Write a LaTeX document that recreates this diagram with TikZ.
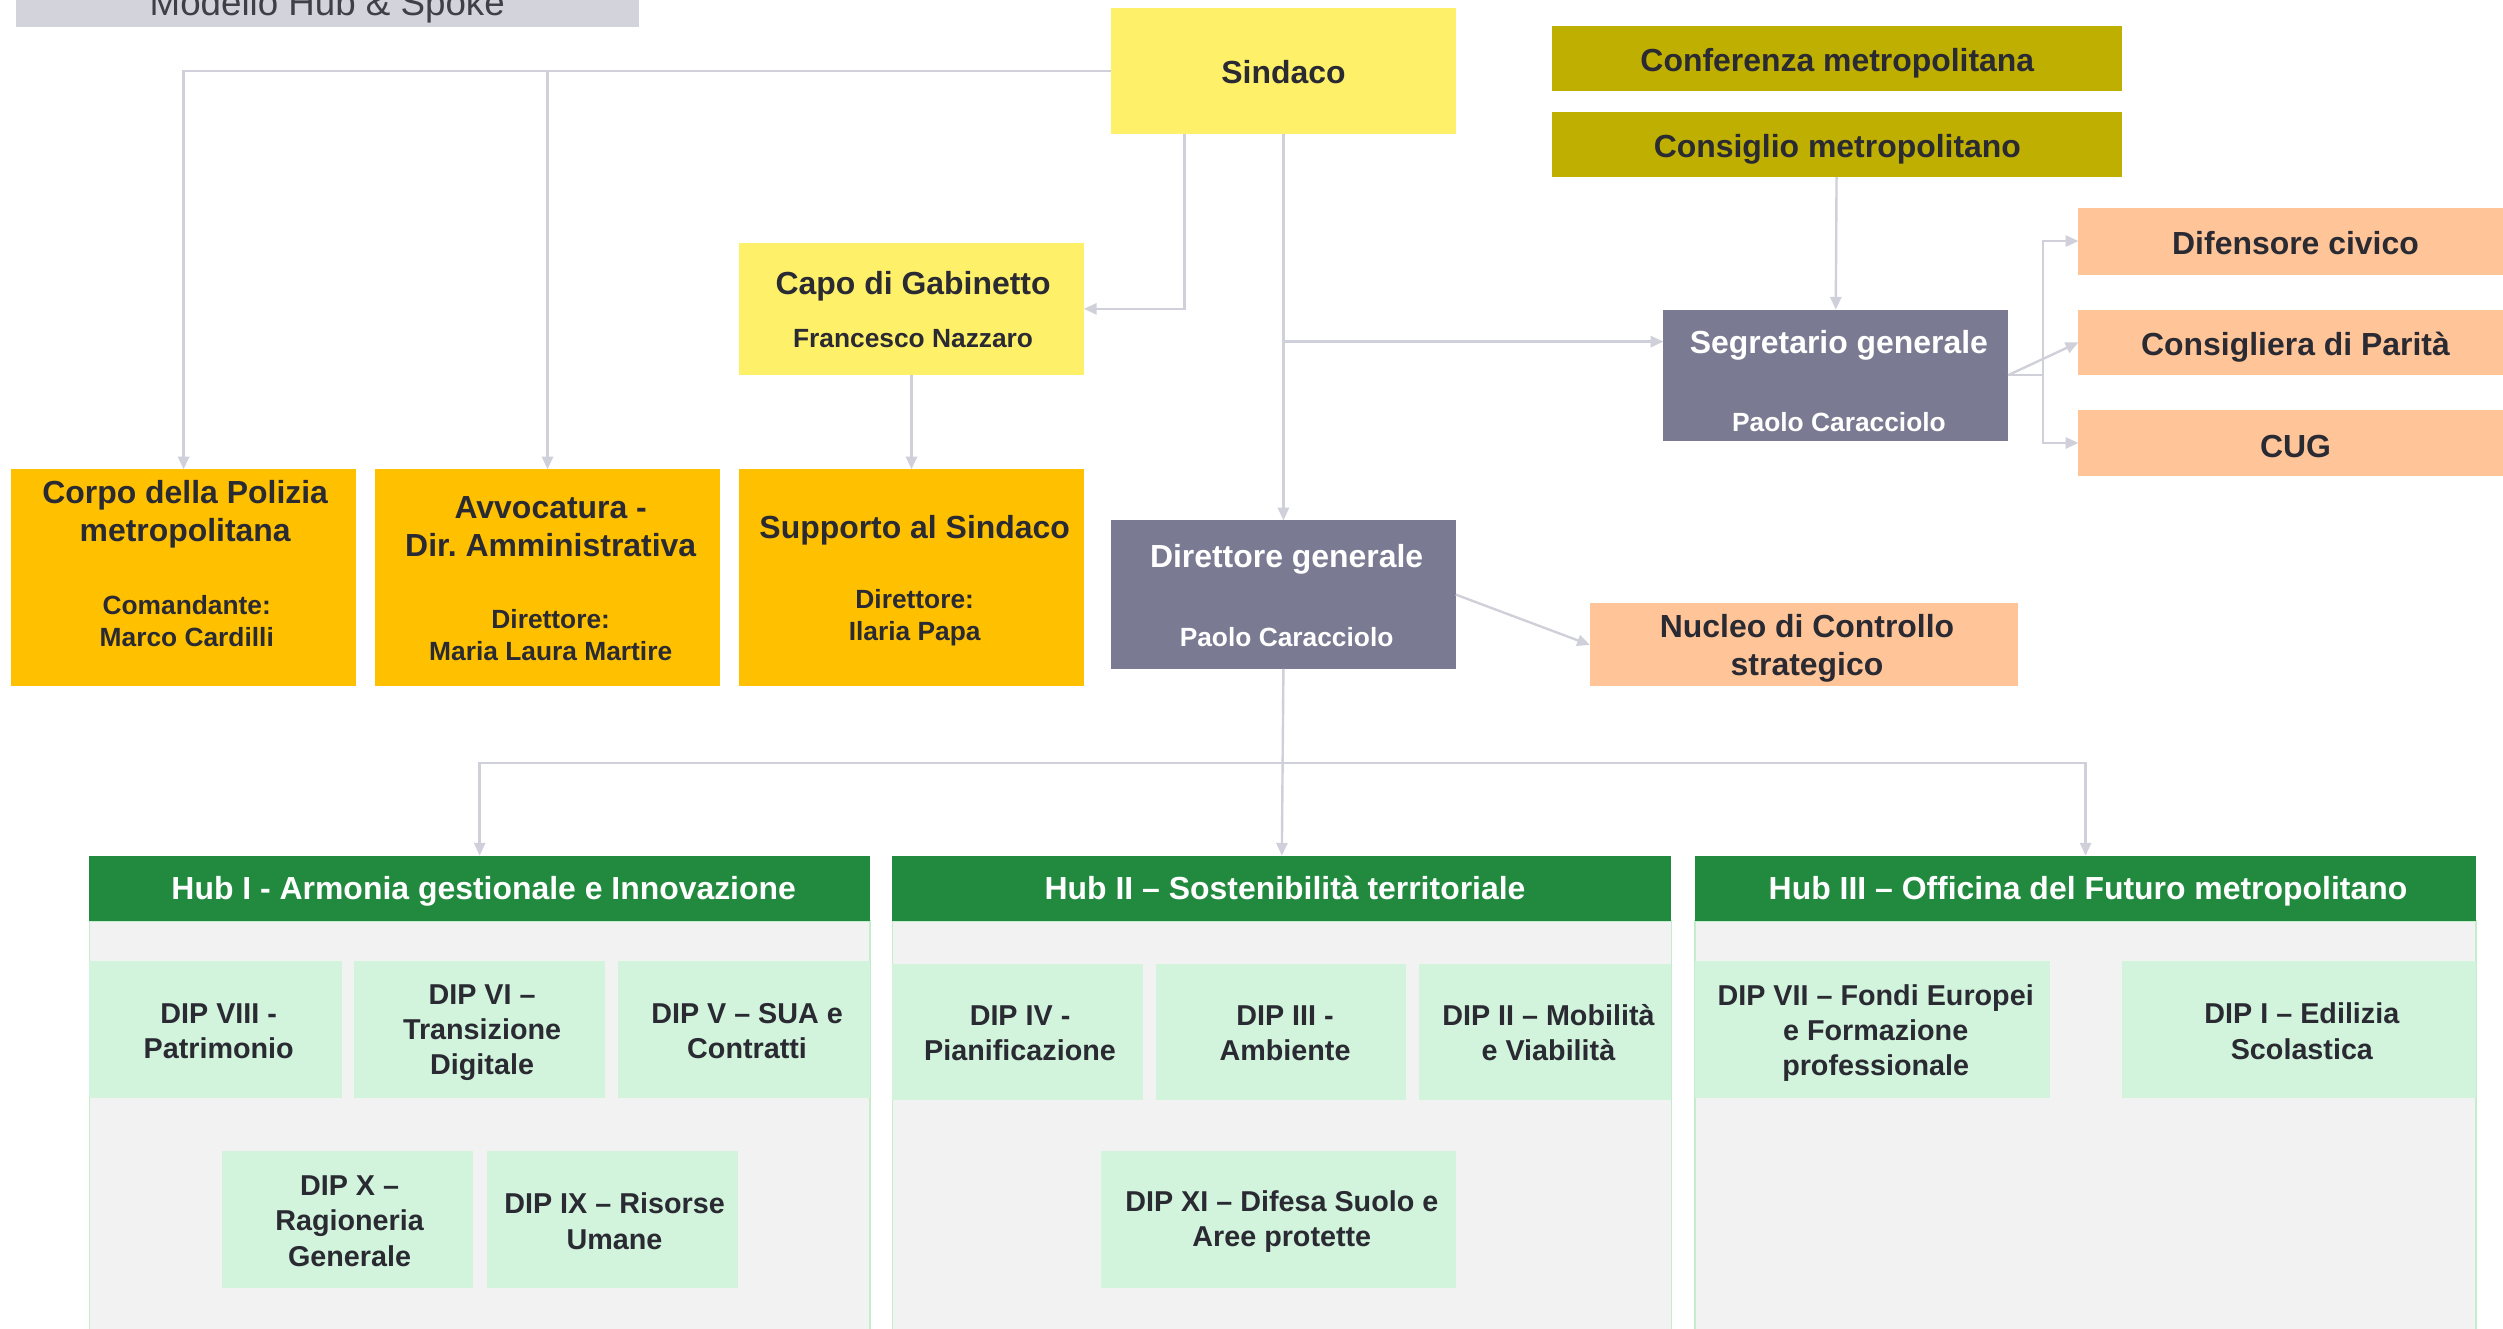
\documentclass[tikz,border=0pt]{standalone}
\usepackage{fontspec}
\setmainfont{Liberation Sans}
\usetikzlibrary{arrows.meta,fit}
\frenchspacing
\definecolor{txt}{HTML}{2A2A33}
\definecolor{conn}{HTML}{D0D0DA}
\definecolor{yel}{HTML}{FFF06A}
\definecolor{olive}{HTML}{BFAF00}
\definecolor{slate}{HTML}{7A7A92}
\definecolor{peach}{HTML}{FFC599}
\definecolor{amber}{HTML}{FFC000}
\definecolor{hubgreen}{HTML}{228A3F}
\definecolor{mint}{HTML}{D2F3DC}
\definecolor{bodygrey}{HTML}{F2F2F2}
\definecolor{titlegrey}{HTML}{D3D3DC}
\definecolor{bodyline}{HTML}{C4EDCE}
\begin{document}
\begin{tikzpicture}[x=1pt,y=-1pt,
  box/.style={inner sep=0pt,outer sep=0pt},
  cline/.style={draw=conn,line width=1.5pt,-{Triangle[length=8pt,width=7pt]}},
  pline/.style={draw=conn,line width=1.5pt},
  ta/.style={font=\bfseries\fontsize{20}{24}\selectfont,text=txt,align=center,inner sep=0pt},
  tb/.style={font=\bfseries\fontsize{16.5}{20}\selectfont,text=txt,align=center,inner sep=0pt},
  tc/.style={font=\bfseries\fontsize{18}{22}\selectfont,text=txt,align=center,inner sep=0pt},
  hubbody/.style={box,fill=bodygrey,draw=bodyline,line width=1pt},
  dip/.style={box,fill=mint}]
\useasboundingbox (0,0) rectangle (1568,832.5);

% title
\node[box,fill=titlegrey,fit={(10,-20)(400,17)}] (title) {};
\node[font=\fontsize{23}{26}\selectfont,text=txt!90,anchor=base,inner sep=0pt] (titletxt) at (205,10) {Modello Hub \& Spoke};

% top boxes
\node[box,fill=yel,fit={(696,5)(912,84)}] (sindaco) {};
\node[ta,anchor=base] (sindacot) at (804,52.5) {Sindaco};

\node[box,fill=olive,fit={(972,16)(1329,57)}] (conf) {};
\node[ta,anchor=base] (conft) at (1151,44.5) {Conferenza metropolitana};
\node[box,fill=olive,fit={(972,70)(1329,111)}] (cons) {};
\node[ta,anchor=base] (const) at (1151,98.5) {Consiglio metropolitano};

\node[box,fill=yel,fit={(463,152)(679,235)}] (capo) {};
\node[ta,anchor=base] (capot1) at (572,184.5) {Capo di Gabinetto};
\node[tb,anchor=base] (capot2) at (572,218) {Francesco Nazzaro};

\node[box,fill=slate,fit={(1042,194)(1258,276)}] (segr) {};
\node[ta,text=white,anchor=base] (segrt1) at (1152,221.5) {Segretario generale};
\node[tb,text=white,anchor=base] (segrt2) at (1152,270) {Paolo Caracciolo};

\node[box,fill=peach,fit={(1302,130)(1580,172)}] (dif) {};
\node[ta,anchor=base] (dift) at (1438,159.5) {Difensore civico};
\node[box,fill=peach,fit={(1302,194)(1580,235)}] (consp) {};
\node[ta,anchor=base] (conspt) at (1438,222.5) {Consigliera di Parità};
\node[box,fill=peach,fit={(1302,257)(1580,298)}] (cug) {};
\node[ta,anchor=base] (cugt) at (1438,286.5) {CUG};

% orange row
\node[box,fill=amber,fit={(7,294)(223,430)}] (corpo) {};
\node[ta] (corpot1) at (116,322) {Corpo della Polizia\\metropolitana};
\node[tb] (corpot2) at (117,389) {Comandante:\\Marco Cardilli};
\node[box,fill=amber,fit={(235,294)(451,430)}] (avv) {};
\node[ta] (avvt1) at (345,330) {Avvocatura -\\Dir. Amministrativa};
\node[tb] (avvt2) at (345,398) {Direttore:\\Maria Laura Martire};
\node[box,fill=amber,fit={(463,294)(679,430)}] (supp) {};
\node[ta,anchor=base] (suppt1) at (573,337.5) {Supporto al Sindaco};
\node[tb] (suppt2) at (573,387) {Direttore:\\Ilaria Papa};

\node[box,fill=slate,fit={(696,326)(912,419)}] (dirgen) {};
\node[ta,text=white,anchor=base] (dirgent1) at (806,355.5) {Direttore generale};
\node[tb,text=white,anchor=base] (dirgent2) at (806,405) {Paolo Caracciolo};

\node[box,fill=peach,fit={(996,378)(1264,430)}] (nucleo) {};
\node[ta] (nucleot) at (1132,406) {Nucleo di Controllo\\strategico};

% hubs
\node[hubbody,fit={(56,577)(545,850)}] (body1) {};
\node[hubbody,fit={(559,577)(1047,850)}] (body2) {};
\node[hubbody,fit={(1062,577)(1551,850)}] (body3) {};
\node[box,fill=hubgreen,fit={(56,536)(545,577)}] (hub1) {};
\node[ta,text=white,anchor=base] (hub1t) at (303,563.5) {Hub I - Armonia gestionale e Innovazione};
\node[box,fill=hubgreen,fit={(559,536)(1047,577)}] (hub2) {};
\node[ta,text=white,anchor=base] (hub2t) at (805,563.5) {Hub II – Sostenibilità territoriale};
\node[box,fill=hubgreen,fit={(1062,536)(1551,577)}] (hub3) {};
\node[ta,text=white,anchor=base] (hub3t) at (1308,563.5) {Hub III – Officina del Futuro metropolitano};

% departments
\node[dip,fit={(56,602)(214,688)}] (d8) {};
\node[tc] (d8t) at (137,646) {DIP VIII -\\Patrimonio};
\node[dip,fit={(222,602)(379,688)}] (d6) {};
\node[tc] (d6t) at (302,647) {DIP VI –\\Transizione\\Digitale};
\node[dip,fit={(387,602)(545,688)}] (d5) {};
\node[tc] (d5t) at (468,646) {DIP V – SUA e\\Contratti};
\node[dip,fit={(139,721)(296,807)}] (d10) {};
\node[tc] (d10t) at (219,765) {DIP X –\\Ragioneria\\Generale};
\node[dip,fit={(305,721)(462,807)}] (d9) {};
\node[tc] (d9t) at (385,765) {DIP IX – Risorse\\Umane};

\node[dip,fit={(559,604)(716,689)}] (d4) {};
\node[tc] (d4t) at (639,647) {DIP IV -\\Pianificazione};
\node[dip,fit={(724,604)(881,689)}] (d3) {};
\node[tc] (d3t) at (805,647) {DIP III -\\Ambiente};
\node[dip,fit={(889,604)(1047,689)}] (d2) {};
\node[tc] (d2t) at (970,647) {DIP II – Mobilità\\e Viabilità};
\node[dip,fit={(690,721)(912,807)}] (d11) {};
\node[tc] (d11t) at (803,765) {DIP XI – Difesa Suolo e\\Aree protette};

\node[dip,fit={(1062,602)(1284,688)}] (d7) {};
\node[tc] (d7t) at (1175,647) {DIP VII – Fondi Europei\\e Formazione\\professionale};
\node[dip,fit={(1329,602)(1551,688)}] (d1) {};
\node[tc] (d1t) at (1442,646) {DIP I – Edilizia\\Scolastica};

% connectors
\coordinate (s1) at (742,84);
\coordinate (segin) at (1042,214);
\coordinate (segj) at (1280,235);
\coordinate (hj) at (804,478);

\draw[cline] (sindaco.west) -| (corpo.north);
\draw[cline] (sindaco.west) -| (avv.north);
\draw[cline] (s1) |- (capo.east);
\draw[cline] (sindaco.south) -- (dirgen.north);
\draw[cline] (sindaco.south) |- (segin);
\draw[cline] (cons.south) -- (segr.north);
\draw[cline] (capo.south) -- (supp.north);
\draw[pline] (segr.east) -- (segj);
\draw[cline] (segj) |- (dif.west);
\draw[cline] (segj) |- (cug.west);
\draw[cline] (segr.east) -- (consp.west);
\draw[cline] (dirgen.east) -- (nucleo.west);
\draw[cline] (dirgen.south) -- (hub2.north);
\draw[cline] (hj) -| (hub1.north);
\draw[cline] (hj) -| (hub3.north);
\end{tikzpicture}
\end{document}
